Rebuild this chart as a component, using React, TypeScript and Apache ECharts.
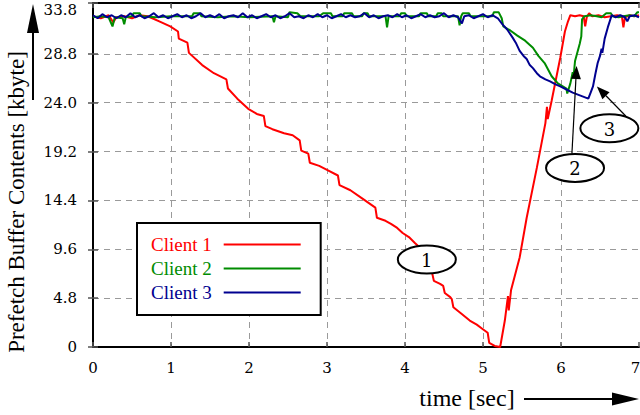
import React, { useEffect, useRef } from 'react';
import * as echarts from 'echarts';

const seriesNames = ['Client 1', 'Client 2', 'Client 3'];
const seriesColors = ['#ff0000', '#008c00', '#000090'];

// [time (sec), prefetch buffer contents (kbyte)]
const client1: number[][] = [
  [0.0, 32.5], [0.1, 32.3], [0.2, 32.6], [0.26, 31.9], [0.3, 32.4], [0.4, 32.5], [0.5, 32.3], [0.6, 32.6],
  [0.7, 32.5], [0.76, 32.3], [0.85, 32.0], [0.99, 31.5], [1.09, 31.0], [1.1, 30.3], [1.21, 29.9], [1.23, 28.9],
  [1.4, 27.7], [1.55, 26.9], [1.71, 26.3], [1.73, 25.4], [1.85, 24.4], [1.99, 23.4], [2.1, 22.9], [2.19, 22.7],
  [2.21, 21.7], [2.3, 21.4], [2.45, 21.0], [2.56, 20.8], [2.65, 20.3], [2.67, 19.3], [2.76, 19.0], [2.78, 18.1],
  [2.9, 17.8], [3.0, 17.4], [3.14, 16.85], [3.16, 15.9], [3.3, 15.4], [3.45, 14.6], [3.62, 13.7], [3.64, 12.7],
  [3.75, 12.4], [3.82, 12.1], [3.9, 11.7], [3.97, 11.2], [4.05, 10.8], [4.13, 10.2], [4.2, 9.7], [4.27, 8.9],
  [4.33, 7.6], [4.35, 7.2], [4.37, 6.5], [4.45, 6.2], [4.49, 6.0], [4.51, 5.3], [4.58, 4.9], [4.6, 4.7],
  [4.62, 3.9], [4.72, 3.3], [4.83, 2.6], [4.92, 2.2], [4.99, 1.8], [5.06, 1.4], [5.08, 0.4], [5.15, 0.1],
  [5.22, 0.0], [5.28, 2.6], [5.32, 5.0], [5.33, 3.6], [5.36, 5.6], [5.47, 8.8], [5.56, 12.7], [5.69, 17.6],
  [5.8, 22.0], [5.82, 23.6], [5.83, 22.4], [5.88, 24.2], [5.99, 28.4], [6.05, 31.0], [6.09, 32.0], [6.12, 32.6],
  [6.18, 32.5], [6.24, 32.6], [6.29, 32.5], [6.31, 31.5], [6.33, 32.4], [6.36, 32.8], [6.4, 32.5], [6.48, 32.6],
  [6.56, 32.4], [6.64, 32.5], [6.72, 32.6], [6.78, 32.5], [6.8, 31.4], [6.82, 32.4], [6.88, 32.6], [6.94, 32.5],
  [7.0, 32.6],
];

const client2: number[][] = [
  [0.0, 32.4], [0.1, 32.5], [0.2, 32.4], [0.25, 31.5], [0.28, 32.4], [0.38, 32.3], [0.4, 31.7], [0.42, 32.4],
  [0.5, 32.5], [0.52, 32.8], [0.6, 32.8], [0.62, 32.5], [0.8, 32.4], [1.0, 32.5], [1.27, 32.5], [1.29, 32.8],
  [1.37, 32.8], [1.39, 32.5], [1.6, 32.4], [1.8, 32.5], [2.0, 32.4], [2.3, 32.5], [2.32, 31.9], [2.34, 32.5],
  [2.5, 32.4], [2.52, 32.9], [2.62, 32.8], [2.66, 32.5], [2.9, 32.5], [2.95, 32.8], [3.05, 32.8], [3.07, 32.5],
  [3.2, 32.5], [3.22, 32.8], [3.32, 32.8], [3.34, 32.5], [3.45, 32.5], [3.47, 32.8], [3.52, 32.8], [3.54, 32.5],
  [3.75, 32.5], [3.77, 31.4], [3.79, 32.5], [3.93, 32.5], [3.95, 32.8], [4.0, 32.8], [4.02, 32.5], [4.18, 32.5],
  [4.2, 32.8], [4.28, 32.8], [4.3, 32.5], [4.4, 32.5], [4.42, 32.8], [4.47, 32.8], [4.49, 32.5], [4.68, 32.5],
  [4.7, 31.6], [4.72, 32.5], [4.74, 32.8], [4.82, 32.8], [4.84, 32.5], [5.0, 32.5], [5.12, 32.5], [5.14, 32.9],
  [5.2, 32.9], [5.24, 32.3], [5.26, 31.5], [5.35, 31.1], [5.44, 30.6], [5.54, 30.1], [5.64, 29.4], [5.71, 28.6],
  [5.79, 27.9], [5.88, 26.6], [5.96, 25.9], [6.07, 25.4], [6.08, 24.9], [6.12, 25.9], [6.15, 27.0], [6.16, 26.5],
  [6.18, 28.1], [6.24, 29.8], [6.26, 30.5], [6.27, 32.2], [6.3, 32.5], [6.38, 32.6], [6.46, 32.5], [6.52, 32.4],
  [6.58, 32.8], [6.64, 32.8], [6.66, 32.5], [6.74, 32.4], [6.8, 32.5], [6.88, 32.6], [6.94, 32.5], [6.98, 32.9],
  [7.0, 32.9],
];

const client3: number[][] = [
  [0.0, 32.6], [0.06, 32.3], [0.12, 32.7], [0.18, 32.4], [0.24, 32.6], [0.3, 32.3], [0.36, 32.6], [0.42, 32.4],
  [0.48, 32.8], [0.54, 32.4], [0.6, 32.6], [0.66, 32.3], [0.72, 32.5], [0.78, 32.8], [0.84, 32.4], [0.9, 32.6],
  [0.96, 32.3], [1.02, 32.5], [1.08, 32.7], [1.14, 32.4], [1.2, 32.6], [1.26, 32.3], [1.32, 32.5], [1.38, 32.8],
  [1.44, 32.4], [1.5, 32.6], [1.56, 32.4], [1.62, 32.7], [1.68, 32.3], [1.74, 32.5], [1.8, 32.6], [1.86, 32.4],
  [1.92, 32.8], [1.98, 32.4], [2.04, 32.6], [2.1, 32.3], [2.16, 32.5], [2.22, 32.7], [2.28, 32.4], [2.34, 32.6],
  [2.4, 32.3], [2.46, 32.5], [2.52, 32.8], [2.58, 32.4], [2.64, 32.5], [2.7, 32.3], [2.76, 32.6], [2.82, 32.4],
  [2.88, 32.7], [2.94, 32.4], [3.0, 32.6], [3.06, 32.3], [3.12, 32.5], [3.18, 32.7], [3.24, 32.4], [3.3, 32.6],
  [3.36, 32.4], [3.42, 32.5], [3.48, 32.8], [3.54, 32.4], [3.6, 32.6], [3.66, 32.3], [3.72, 32.5], [3.78, 32.6],
  [3.84, 32.4], [3.9, 32.7], [3.96, 32.4], [4.02, 32.6], [4.08, 32.3], [4.14, 32.5], [4.2, 32.7], [4.26, 32.4],
  [4.32, 32.6], [4.38, 32.4], [4.44, 32.5], [4.5, 32.8], [4.56, 32.4], [4.62, 32.6], [4.68, 32.4], [4.73, 31.8],
  [4.76, 32.5], [4.82, 32.6], [4.88, 32.3], [4.94, 32.5], [5.0, 32.7], [5.06, 32.4], [5.12, 32.6], [5.19, 32.3],
  [5.25, 31.7], [5.31, 31.2], [5.38, 30.4], [5.42, 29.9], [5.47, 29.1], [5.52, 28.6], [5.56, 28.3], [5.6, 27.7],
  [5.64, 27.4], [5.69, 26.9], [5.73, 26.6], [5.8, 26.3], [5.86, 26.1], [5.93, 25.8], [5.99, 25.6], [6.07, 25.3],
  [6.15, 25.0], [6.25, 24.7], [6.35, 24.4], [6.38, 25.0], [6.41, 25.6], [6.44, 26.8], [6.47, 27.9], [6.5, 28.6],
  [6.52, 29.3], [6.53, 28.9], [6.56, 30.3], [6.6, 31.4], [6.65, 32.6], [6.7, 32.4], [6.76, 32.6], [6.82, 32.4],
  [6.85, 32.0], [6.88, 32.5], [6.94, 32.6], [7.0, 32.4],
];

const seriesData = [client1, client2, client3];

const xMin = 0;
const xMax = 7;
const xStep = 1;
const yMin = 0;
const yMax = 33.8;
const yStep = 4.8;
const yTickValues = [0, 4.8, 9.6, 14.4, 19.2, 24.0, 28.8, 33.8];

const xAxisTitle = 'time [sec]';
const yAxisTitle = 'Prefetch Buffer Contents [kbyte]';

// numbered callouts: ellipse centre and optional arrow (data coordinates)
const callouts: { label: string; center: number[]; from?: number[]; to?: number[] }[] = [
  { label: '1', center: [4.28, 8.6] },
  { label: '2', center: [6.18, 17.6], from: [6.14, 19.0], to: [6.2, 27.6] },
  { label: '3', center: [6.62, 21.5], from: [6.83, 22.7], to: [6.46, 25.6] },
];

const TICK_FONT = 'DejaVu Serif';
const TEXT_FONT = 'Liberation Serif';

function arrowHead(tip: number[], from: number[], len: number, half: number) {
  const dx = tip[0] - from[0];
  const dy = tip[1] - from[1];
  const d = Math.sqrt(dx * dx + dy * dy) || 1;
  const ux = dx / d;
  const uy = dy / d;
  const bx = tip[0] - ux * len;
  const by = tip[1] - uy * len;
  return {
    base: [bx, by],
    points: [
      [tip[0], tip[1]],
      [bx - uy * half, by + ux * half],
      [bx + uy * half, by - ux * half],
    ],
  };
}

export default function App() {
  const ref = useRef<HTMLDivElement>(null);

  useEffect(() => {
    if (!ref.current) return;
    const chart = echarts.init(ref.current, null, { renderer: 'svg' });

    const tickStyle = { inside: true, length: 5, lineStyle: { color: '#555', width: 1.5 } };
    const gridLine = {
      show: true,
      showMinLine: false,
      showMaxLine: false,
      lineStyle: { color: '#9a9a9a', type: [6, 5], width: 1 },
    };

    chart.setOption({
      animation: false,
      backgroundColor: '#fff',
      grid: { left: 93, right: 1, top: 3, bottom: 68, outerBoundsMode: 'none', containLabel: false },
      xAxis: [
        {
          type: 'value', min: xMin, max: xMax, interval: xStep, position: 'bottom',
          axisLine: { show: true, onZero: false, lineStyle: { color: '#000', width: 2 } },
          axisTick: tickStyle,
          axisLabel: {
            color: '#000', fontFamily: TICK_FONT, fontSize: 15, margin: 13,
            formatter: (v: number) => (v === xMax ? '{last|' + v + '}' : String(v)),
            rich: {
              last: { fontFamily: TICK_FONT, fontSize: 15, color: '#000', padding: [0, 7, 0, 0] },
            },
          },
          splitLine: gridLine,
        },
        {
          type: 'value', min: xMin, max: xMax, interval: xStep, position: 'top',
          axisLine: { show: true, onZero: false, lineStyle: { color: '#000', width: 2 } },
          axisTick: tickStyle,
          axisLabel: { show: false },
          splitLine: { show: false },
        },
      ],
      yAxis: [
        {
          type: 'value', min: yMin, max: yMax, interval: yStep, position: 'left',
          axisLine: { show: true, onZero: false, lineStyle: { color: '#000', width: 2 } },
          axisTick: { ...tickStyle, customValues: yTickValues },
          axisLabel: {
            customValues: yTickValues,
            color: '#000', fontFamily: TICK_FONT, fontSize: 15, margin: 16,
            formatter: (v: number) => {
              if (v === 0) return '0';
              if (Math.abs(v - yMax) < 1e-6) return '{top|' + v.toFixed(1) + '}';
              return v.toFixed(1);
            },
            rich: {
              top: { fontFamily: TICK_FONT, fontSize: 15, color: '#000', padding: [14, 0, 0, 0] },
            },
          },
          splitLine: gridLine,
        },
        {
          type: 'value', min: yMin, max: yMax, interval: yStep, position: 'right',
          axisLine: { show: false },
          axisTick: { show: true, ...tickStyle, customValues: yTickValues },
          axisLabel: { show: false },
          splitLine: { show: false },
        },
      ],
      legend: {
        orient: 'vertical',
        left: 137,
        top: 223,
        align: 'right',
        icon: 'rect',
        itemWidth: 77,
        itemHeight: 2,
        itemGap: 5,
        padding: [12, 20, 13, 14],
        borderColor: '#000',
        borderWidth: 2,
        borderRadius: 0,
        backgroundColor: '#fff',
        selectedMode: false,
        textStyle: { fontFamily: TEXT_FONT, fontSize: 19, lineHeight: 19, padding: [0, 7, 0, 0] },
        data: seriesNames.map((n, i) => ({ name: n, textStyle: { color: seriesColors[i] } })),
      },
      series: seriesNames.map((n, i) => ({
        name: n,
        type: 'line',
        data: seriesData[i],
        showSymbol: false,
        symbol: 'none',
        color: seriesColors[i],
        lineStyle: { color: seriesColors[i], width: 2 },
        emphasis: { disabled: true },
      })),
    });

    const graphics: any[] = [];
    const toPx = (p: number[]) => chart.convertToPixel({ seriesIndex: 0 }, p) as number[];

    callouts.forEach((c, i) => {
      const cp = toPx(c.center);
      if (c.from && c.to) {
        const fp = toPx(c.from);
        const tp = toPx(c.to);
        const head = arrowHead(tp, fp, 13, 5);
        graphics.push({
          type: 'line', id: 'cl' + i, z: 100,
          shape: { x1: fp[0], y1: fp[1], x2: head.base[0], y2: head.base[1] },
          style: { stroke: '#000', lineWidth: 1.2 },
        });
        graphics.push({
          type: 'polygon', id: 'ch' + i, z: 100,
          shape: { points: head.points },
          style: { fill: '#000' },
        });
      }
      graphics.push({
        type: 'ellipse', id: 'ce' + i, z: 101,
        shape: { cx: cp[0], cy: cp[1], rx: 29, ry: 14 },
        style: { fill: '#fff', stroke: '#000', lineWidth: 2 },
      });
      graphics.push({
        type: 'text', id: 'ct' + i, z: 102,
        x: cp[0], y: cp[1] + 1,
        style: {
          text: c.label, fill: '#000', font: '18px "' + TICK_FONT + '"',
          textAlign: 'center', textVerticalAlign: 'middle',
        },
      });
    });

    // axis titles with arrows
    graphics.push({
      type: 'text', id: 'xt', z: 100, x: 467, y: 398,
      style: {
        text: xAxisTitle, fill: '#000', font: '24px "' + TEXT_FONT + '"',
        textAlign: 'center', textVerticalAlign: 'middle',
      },
    });
    graphics.push({
      type: 'line', id: 'xal', z: 100,
      shape: { x1: 524, y1: 399, x2: 614, y2: 399 },
      style: { stroke: '#000', lineWidth: 2 },
    });
    graphics.push({
      type: 'polygon', id: 'xah', z: 100,
      shape: { points: [[639, 399], [612, 392.5], [612, 405.5]] },
      style: { fill: '#000' },
    });
    graphics.push({
      type: 'text', id: 'yt', z: 100, x: 16, y: 202, rotation: Math.PI / 2,
      style: {
        text: yAxisTitle, fill: '#000', font: '23px "' + TEXT_FONT + '"',
        textAlign: 'center', textVerticalAlign: 'middle',
      },
    });
    graphics.push({
      type: 'line', id: 'yal', z: 100,
      shape: { x1: 33, y1: 100, x2: 33, y2: 31 },
      style: { stroke: '#000', lineWidth: 2 },
    });
    graphics.push({
      type: 'polygon', id: 'yah', z: 100,
      shape: { points: [[33, 4], [27, 33], [39, 33]] },
      style: { fill: '#000' },
    });

    chart.setOption({ graphic: graphics });

    return () => chart.dispose();
  }, []);

  return (
    <div
      ref={ref}
      style={{ position: 'absolute', left: 0, top: 0, width: 640, height: 415 }}
    />
  );
}
